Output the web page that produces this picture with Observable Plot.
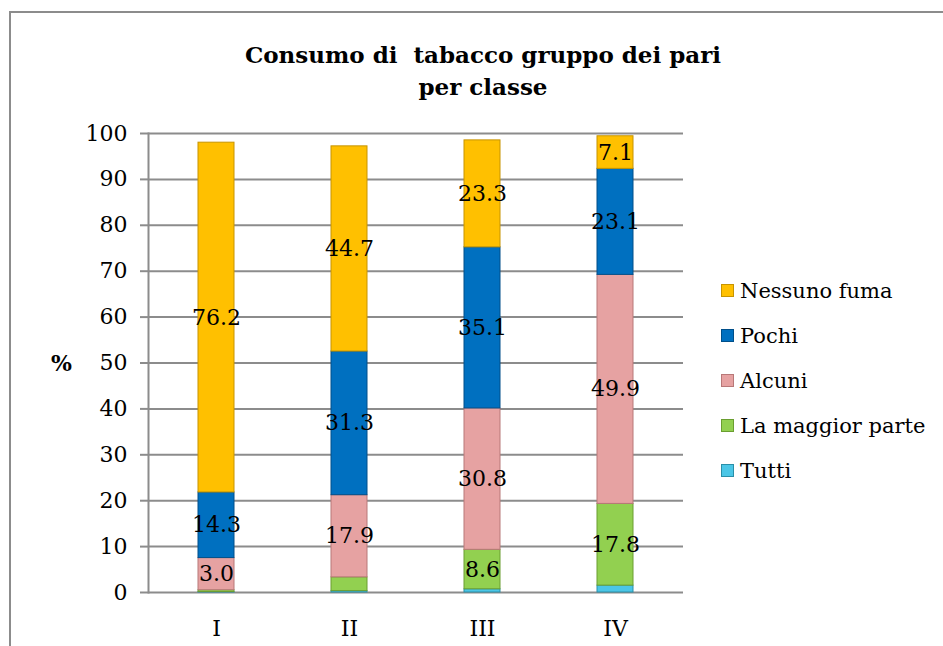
<!DOCTYPE html>
<html>
<head>
<meta charset="utf-8">
<script src="https://cdn.jsdelivr.net/npm/d3@7"></script>
<script src="https://cdn.jsdelivr.net/npm/@observablehq/plot@0.6"></script>
<style>
  html, body { margin: 0; padding: 0; background: #fff; }
  #wrap { position: relative; width: 943px; height: 646px; overflow: hidden; font-family: 'DejaVu Serif', serif; }
  #frame { position: absolute; left: 9px; top: 11px; width: 1200px; height: 1200px; border: 2px solid #8c8c8c; box-sizing: border-box; }
  #title { position: absolute; left: 0; width: 966px; top: 39px; text-align: center; font-weight: bold; font-size: 23px; line-height: 32px; white-space: pre; color: #000; }
  #ylabel { position: absolute; left: 51px; top: 350px; font-weight: bold; font-size: 22px; }
  #legend { position: absolute; left: 721px; top: 268px; font-size: 21px; }
  .item { display: flex; align-items: center; height: 45px; }
  .sw { width: 13px; height: 13px; margin-right: 6px; box-sizing: border-box; }
  #chart { position: absolute; left: 0; top: 0; }
</style>
</head>
<body>
<div id="wrap">
  <div id="frame"></div>
  <div id="chart"></div>
  <div id="title">Consumo di  tabacco gruppo dei pari
per classe</div>
  <div id="ylabel">%</div>
  <div id="legend"></div>
</div>
<script>
const classi = ["I", "II", "III", "IV"];
const serie = ["Tutti", "La maggior parte", "Alcuni", "Pochi", "Nessuno fuma"];
const colori = ["#4BC6E6", "#92D050", "#E6A2A2", "#0070C0", "#FFC000"];
const bordi = ["#2A8FA8", "#6A9E30", "#B87878", "#004F8A", "#C79400"];
const tutti = [0.1, 0.3, 0.7, 1.5];
const maggiorParte = [0.4, 3.0, 8.6, 17.8];
const alcuni = [7.0, 17.9, 30.8, 49.9];
const pochi = [14.3, 31.3, 35.1, 23.1];
const nessuno = [76.2, 44.7, 23.3, 7.1];
const etichetteTutti = ["", "", "", ""];
const etichetteMaggior = ["", "", "8.6", "17.8"];
const etichetteAlcuni = ["3.0", "17.9", "30.8", "49.9"];
const etichettePochi = ["14.3", "31.3", "35.1", "23.1"];
const etichetteNessuno = ["76.2", "44.7", "23.3", "7.1"];
const yTicks = [0, 10, 20, 30, 40, 50, 60, 70, 80, 90, 100];

const valori = [tutti, maggiorParte, alcuni, pochi, nessuno];
const etichette = [etichetteTutti, etichetteMaggior, etichetteAlcuni, etichettePochi, etichetteNessuno];
const data = [];
serie.forEach((s, si) => classi.forEach((c, ci) => {
  data.push({classe: c, serie: s, valore: valori[si][ci], etichetta: etichette[si][ci]});
}));

const serif = "DejaVu Serif";
const chart = Plot.plot({
  width: 943,
  height: 646,
  marginTop: 133,
  marginBottom: 54,
  marginLeft: 148,
  marginRight: 260,
  style: {fontFamily: serif, fontSize: "22px", background: "transparent", color: "#000"},
  x: {domain: classi, paddingInner: 0.73, paddingOuter: 0.365, label: null},
  y: {domain: [0, 100], ticks: yTicks, label: null},
  color: {domain: serie, range: colori},
  marks: [
    Plot.gridY(yTicks, {stroke: "#8c8c8c", strokeOpacity: 1, strokeWidth: 2}),
    Plot.axisY(yTicks, {tickSize: 8, tickPadding: 13, stroke: "#8c8c8c", strokeWidth: 2, fill: "#000", fontSize: 22, fontFamily: serif, label: null}),
    Plot.axisX({tickSize: 0, tickPadding: 28, fill: "#000", fontSize: 22, fontFamily: serif, label: null}),
    Plot.frame({anchor: "left", stroke: "#8c8c8c", strokeWidth: 2}),
    Plot.barY(data, {x: "classe", y: "valore", fill: "serie", z: "serie", order: serie,
      stroke: d => bordi[serie.indexOf(d.serie)], strokeWidth: 1}),
    Plot.text(data, Plot.stackY({x: "classe", y: "valore", z: "serie", order: serie, text: "etichetta",
      fill: "#000", fontSize: 22, fontFamily: serif}))
  ]
});
document.getElementById("chart").appendChild(chart);

const legend = document.getElementById("legend");
serie.slice().reverse().forEach(s => {
  const i = serie.indexOf(s);
  const row = document.createElement("div");
  row.className = "item";
  const sw = document.createElement("div");
  sw.className = "sw";
  sw.style.background = colori[i];
  sw.style.border = "1px solid " + bordi[i];
  const t = document.createElement("span");
  t.textContent = s;
  row.appendChild(sw);
  row.appendChild(t);
  legend.appendChild(row);
});
</script>
</body>
</html>
